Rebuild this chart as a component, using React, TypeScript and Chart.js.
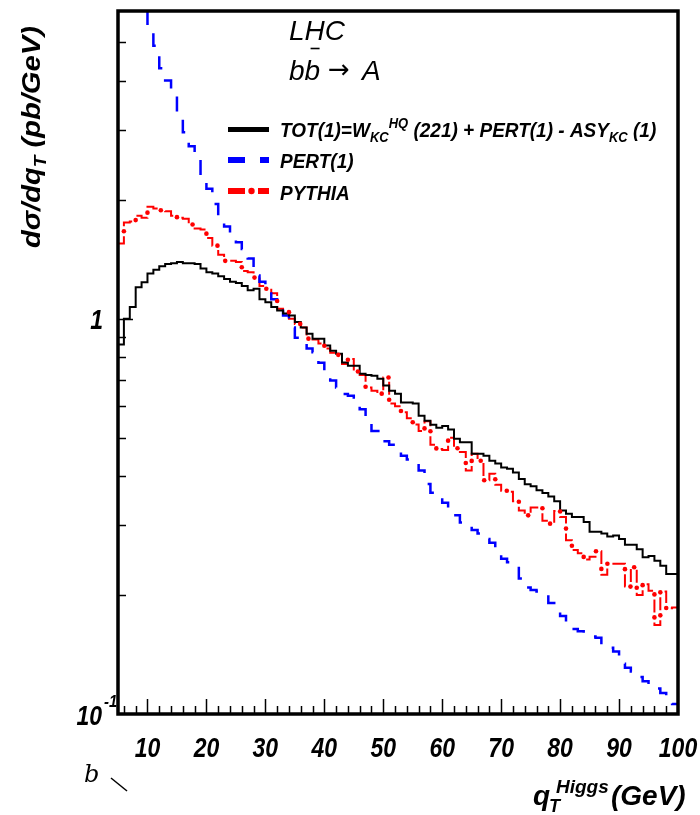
import React, { useEffect, useRef } from "react";
import { Chart, registerables } from "chart.js";

Chart.register(...registerables);

// bin edges of the qT histograms (GeV), 1 GeV bins
const qtEdges = [
  5, 6, 7, 8, 9, 10, 11, 12, 13, 14, 15, 16, 17, 18, 19, 20, 21, 22, 23, 24,
  25, 26, 27, 28, 29, 30, 31, 32, 33, 34, 35, 36, 37, 38, 39, 40, 41, 42, 43, 44,
  45, 46, 47, 48, 49, 50, 51, 52, 53, 54, 55, 56, 57, 58, 59, 60, 61, 62, 63, 64,
  65, 66, 67, 68, 69, 70, 71, 72, 73, 74, 75, 76, 77, 78, 79, 80, 81, 82, 83, 84,
  85, 86, 87, 88, 89, 90, 91, 92, 93, 94, 95, 96, 97, 98, 99, 100,
];

// TOT(1) = W_KC^HQ(221) + PERT(1) - ASY_KC(1)   (pb/GeV), bins 5..99
const totValues = [
  0.86, 1.0, 1.07, 1.2, 1.236, 1.3, 1.33, 1.356, 1.375, 1.38,
  1.39, 1.38, 1.38, 1.375, 1.34, 1.31, 1.3, 1.28, 1.26, 1.24,
  1.23, 1.21, 1.18, 1.19, 1.12, 1.1, 1.07, 1.048, 1.03, 1.018,
  0.98, 0.95, 0.916, 0.89, 0.89, 0.855, 0.83, 0.815, 0.775, 0.76,
  0.76, 0.725, 0.72, 0.717, 0.705, 0.677, 0.657, 0.646, 0.614, 0.614,
  0.61, 0.568, 0.552, 0.539, 0.53, 0.535, 0.524, 0.497, 0.487, 0.487,
  0.455, 0.455, 0.45, 0.437, 0.43, 0.42, 0.417, 0.408, 0.393, 0.381,
  0.377, 0.368, 0.362, 0.355, 0.345, 0.327, 0.321, 0.315, 0.315, 0.306,
  0.289, 0.289, 0.286, 0.281, 0.283, 0.277, 0.268, 0.268, 0.261, 0.249,
  0.251, 0.244, 0.237, 0.226, 0.226,
];

// PERT(1), bins 5..99
const pertValues = [
  14.0, 11.5, 9.5, 7.8, 6.5, 5.57, 4.9, 4.3, 4.0, 3.67,
  3.2, 2.96, 2.73, 2.56, 2.3, 2.13, 1.95, 1.82, 1.71, 1.62,
  1.56, 1.5, 1.42, 1.285, 1.24, 1.18, 1.12, 1.06, 1.018, 0.95,
  0.895, 0.864, 0.84, 0.822, 0.774, 0.726, 0.697, 0.67, 0.645, 0.638,
  0.61, 0.59, 0.552, 0.52, 0.52, 0.49, 0.48, 0.471, 0.45, 0.44,
  0.43, 0.413, 0.382, 0.363, 0.352, 0.342, 0.33, 0.318, 0.305, 0.3,
  0.292, 0.286, 0.277, 0.271, 0.254, 0.247, 0.242, 0.237, 0.22, 0.209,
  0.206, 0.204, 0.202, 0.191, 0.186, 0.177, 0.167, 0.164, 0.162, 0.159,
  0.157, 0.156, 0.15, 0.147, 0.144, 0.134, 0.131, 0.128, 0.124, 0.121,
  0.119, 0.116, 0.113, 0.11, 0.106,
];

// PYTHIA, bins 5..99
const pythiaValues = [
  1.55, 1.75, 1.76, 1.82, 1.8, 1.92, 1.9, 1.88, 1.87, 1.82,
  1.8, 1.79, 1.73, 1.69, 1.68, 1.6, 1.53, 1.45, 1.4, 1.4,
  1.39, 1.32, 1.31, 1.27, 1.21, 1.19, 1.16, 1.06, 1.04, 1.0,
  0.97, 0.95, 0.89, 0.885, 0.865, 0.84, 0.82, 0.81, 0.768, 0.79,
  0.735, 0.72, 0.67, 0.657, 0.646, 0.71, 0.61, 0.6, 0.58, 0.56,
  0.54, 0.52, 0.55, 0.48, 0.468, 0.465, 0.5, 0.47, 0.46, 0.413,
  0.455, 0.437, 0.39, 0.405, 0.38, 0.367, 0.365, 0.345, 0.327, 0.318,
  0.333, 0.333, 0.308, 0.303, 0.326, 0.315, 0.275, 0.26, 0.255, 0.246,
  0.25, 0.258, 0.225, 0.24, 0.24, 0.24, 0.21, 0.235, 0.2, 0.213,
  0.205, 0.168, 0.204, 0.185, 0.186,
];

const xTickLabelValues = [10, 20, 30, 40, 50, 60, 70, 80, 90, 100];
const yMinorTickValues = [0.2, 0.3, 0.4, 0.5, 0.6, 0.7, 0.8, 0.9, 2, 3, 4, 5];
const xMin = 5;
const xMax = 100;
const yMin = 0.1;
const yMax = 6;

// dash-dot pattern of the PYTHIA line
const RED_DASH = 13;
const RED_GAP = 5;

const FONT = '"Liberation Sans", Arial, Helvetica, sans-serif';

function toPoints(vals: number[]) {
  return qtEdges.map((x, i) => ({ x, y: vals[Math.min(i, vals.length - 1)] }));
}

type Seg = { t: string; size: number; dy?: number; dx?: number };

function drawRich(ctx: CanvasRenderingContext2D, segs: Seg[], x: number, y: number, sy: number) {
  let cx = x;
  for (const s of segs) {
    ctx.save();
    ctx.font = `italic bold ${s.size}px ${FONT}`;
    ctx.textAlign = "left";
    ctx.textBaseline = "alphabetic";
    cx += s.dx || 0;
    ctx.translate(cx, y + (s.dy || 0));
    ctx.scale(1, sy);
    ctx.fillText(s.t, 0, 0);
    cx += ctx.measureText(s.t).width;
    ctx.restore();
  }
  return cx;
}

// dots of the dash-dot line, placed along the step path built from the dataset's own pixels
function drawDashDotDots(chart: any, datasetIndex: number) {
  const { ctx, chartArea: a } = chart;
  const meta = chart.getDatasetMeta(datasetIndex);
  const pts = meta.data.map((p: any) => ({ x: p.x, y: p.y }));
  const verts: { x: number; y: number }[] = [];
  for (let i = 0; i < pts.length; i++) {
    if (i === 0) {
      verts.push(pts[0]);
    } else {
      verts.push({ x: pts[i].x, y: pts[i - 1].y });
      verts.push(pts[i]);
    }
  }
  const period = RED_DASH + 2 * RED_GAP;
  const first = RED_DASH + RED_GAP;
  let travelled = 0;
  let nextDot = first;
  ctx.save();
  ctx.beginPath();
  ctx.rect(a.left, a.top, a.right - a.left, a.bottom - a.top);
  ctx.clip();
  ctx.fillStyle = "#ff0000";
  for (let i = 1; i < verts.length; i++) {
    const p0 = verts[i - 1];
    const p1 = verts[i];
    const len = Math.hypot(p1.x - p0.x, p1.y - p0.y);
    while (nextDot <= travelled + len) {
      const t = len === 0 ? 0 : (nextDot - travelled) / len;
      const x = p0.x + (p1.x - p0.x) * t;
      const y = p0.y + (p1.y - p0.y) * t;
      ctx.beginPath();
      ctx.arc(x, y, 2.3, 0, Math.PI * 2);
      ctx.fill();
      nextDot += period;
    }
    travelled += len;
  }
  ctx.restore();
}

const overlayPlugin = {
  id: "rootOverlay",
  afterDatasetsDraw(chart: any) {
    const { ctx, chartArea: a, scales } = chart;
    const xs = scales.x;
    const ys = scales.y;

    drawDashDotDots(chart, 2);

    ctx.save();
    ctx.fillStyle = "#000";
    ctx.strokeStyle = "#000";

    // x ticks (inside)
    ctx.lineWidth = 1.5;
    for (let v = xMin + 1; v < xMax; v += 2) {
      const px = Math.round(xs.getPixelForValue(v)) + 0.5;
      const len = v % 10 === 0 ? 15 : 8;
      ctx.beginPath();
      ctx.moveTo(px, a.bottom);
      ctx.lineTo(px, a.bottom - len);
      ctx.stroke();
    }
    // y ticks (inside)
    for (const v of yMinorTickValues) {
      const py = Math.round(ys.getPixelForValue(v)) + 0.5;
      ctx.beginPath();
      ctx.moveTo(a.left, py);
      ctx.lineTo(a.left + 8, py);
      ctx.stroke();
    }
    {
      const py = Math.round(ys.getPixelForValue(1)) + 0.5;
      ctx.beginPath();
      ctx.moveTo(a.left, py);
      ctx.lineTo(a.left + 15, py);
      ctx.stroke();
    }

    // frame
    ctx.lineWidth = 3.5;
    ctx.strokeRect(a.left, a.top, a.right - a.left, a.bottom - a.top);

    // x tick labels
    for (const v of xTickLabelValues) {
      const px = xs.getPixelForValue(v);
      ctx.save();
      ctx.font = `italic bold 23px ${FONT}`;
      ctx.textAlign = "center";
      ctx.translate(px, 757);
      ctx.scale(1, 1.18);
      ctx.fillText(String(v), 0, 0);
      ctx.restore();
    }
    // y tick labels
    {
      const p1 = ys.getPixelForValue(1);
      ctx.save();
      ctx.font = `italic bold 23px ${FONT}`;
      ctx.textAlign = "right";
      ctx.translate(103, p1 + 10);
      ctx.scale(1, 1.18);
      ctx.fillText("1", 0, 0);
      ctx.restore();
      const p01 = ys.getPixelForValue(0.1);
      ctx.save();
      ctx.font = `italic bold 23px ${FONT}`;
      ctx.textAlign = "right";
      ctx.translate(102, p01 + 11);
      ctx.scale(1, 1.18);
      ctx.fillText("10", 0, 0);
      ctx.restore();
      ctx.save();
      ctx.font = `italic bold 15px ${FONT}`;
      ctx.textAlign = "left";
      ctx.translate(104, p01 - 7);
      ctx.scale(1, 1.1);
      ctx.fillText("-1", 0, 0);
      ctx.restore();
    }

    // LHC / b bbar -> A
    ctx.save();
    ctx.font = `italic 28px ${FONT}`;
    ctx.textAlign = "left";
    ctx.fillText("LHC", 289, 40);
    const wb = ctx.measureText("b").width;
    ctx.fillText("b", 289, 80);
    ctx.fillText("b", 289 + wb, 80);
    ctx.lineWidth = 1.6;
    ctx.beginPath();
    ctx.moveTo(289 + wb + 6, 48.5);
    ctx.lineTo(289 + wb + 15, 48.5);
    ctx.stroke();
    ctx.font = `26px "DejaVu Sans", ${FONT}`;
    ctx.fillText("\u2192", 328, 78);
    ctx.font = `italic 28px ${FONT}`;
    ctx.fillText("A", 362, 80);
    ctx.restore();

    // legend
    const lx0 = 228;
    const lx1 = 269;
    ctx.save();
    ctx.lineCap = "butt";
    ctx.lineWidth = 5;
    ctx.strokeStyle = "#000";
    ctx.beginPath();
    ctx.moveTo(lx0, 129.5);
    ctx.lineTo(lx1, 129.5);
    ctx.stroke();
    ctx.strokeStyle = "#0000ff";
    ctx.lineWidth = 6;
    ctx.setLineDash([17, 15]);
    ctx.beginPath();
    ctx.moveTo(lx0, 160);
    ctx.lineTo(lx1, 160);
    ctx.stroke();
    ctx.setLineDash([]);
    ctx.strokeStyle = "#ff0000";
    ctx.fillStyle = "#ff0000";
    ctx.beginPath();
    ctx.moveTo(lx0, 191);
    ctx.lineTo(lx0 + 17, 191);
    ctx.moveTo(lx0 + 30, 191);
    ctx.lineTo(lx1, 191);
    ctx.stroke();
    ctx.beginPath();
    ctx.arc(lx0 + 23.5, 191, 3.2, 0, Math.PI * 2);
    ctx.fill();
    ctx.restore();

    ctx.fillStyle = "#000";
    const lsy = 1.1;
    drawRich(
      ctx,
      [
        { t: "TOT(1)=W", size: 19 },
        { t: "KC", size: 13, dy: 5 },
        { t: "HQ", size: 13, dy: -9 },
        { t: " (221) + PERT(1) - ASY", size: 19 },
        { t: "KC", size: 13, dy: 5 },
        { t: " (1)", size: 19 },
      ],
      280,
      137,
      lsy
    );
    drawRich(ctx, [{ t: "PERT(1)", size: 19 }], 280, 168, lsy);
    drawRich(ctx, [{ t: "PYTHIA", size: 19 }], 280, 200, lsy);

    // y axis title (rotated)
    ctx.save();
    ctx.translate(40, 248);
    ctx.rotate(-Math.PI / 2);
    ctx.scale(1.12, 1);
    drawRich(
      ctx,
      [
        { t: "d\u03c3/dq", size: 26 },
        { t: "T", size: 17, dy: 6 },
        { t: " (pb/GeV)", size: 26 },
      ],
      0,
      0,
      1
    );
    ctx.restore();

    // x axis title
    drawRich(ctx, [{ t: "q", size: 28 }], 533, 805, 1);
    drawRich(ctx, [{ t: "T", size: 18 }], 549, 812, 1);
    drawRich(ctx, [{ t: "Higgs", size: 19 }], 556, 793, 1);
    drawRich(ctx, [{ t: "(GeV)", size: 28 }], 611, 805, 1);

    // stray "b" and mark below the frame
    ctx.save();
    ctx.font = `italic 24px "DejaVu Serif", "Liberation Serif", serif`;
    ctx.fillText("b", 84, 782);
    ctx.lineWidth = 1.5;
    ctx.beginPath();
    ctx.moveTo(111, 778);
    ctx.lineTo(127, 791);
    ctx.stroke();
    ctx.restore();

    ctx.restore();
  },
};

export default function App() {
  const ref = useRef<HTMLCanvasElement>(null);
  useEffect(() => {
    document.body.style.margin = "0";
    const canvas = ref.current!;
    const chart = new Chart(canvas, {
      type: "line",
      data: {
        datasets: [
          {
            label: "TOT(1)",
            data: toPoints(totValues),
            stepped: "before",
            borderColor: "#000000",
            borderWidth: 2,
            pointRadius: 0,
            fill: false,
          },
          {
            label: "PERT(1)",
            data: toPoints(pertValues),
            stepped: "before",
            borderColor: "#0000ff",
            borderWidth: 2.5,
            borderDash: [15, 14],
            pointRadius: 0,
            fill: false,
          },
          {
            label: "PYTHIA",
            data: toPoints(pythiaValues),
            stepped: "before",
            borderColor: "#ff0000",
            borderWidth: 2,
            borderDash: [RED_DASH, 2 * RED_GAP],
            pointRadius: 0,
            fill: false,
          },
        ] as any,
      },
      options: {
        responsive: false,
        animation: false,
        devicePixelRatio: 1,
        events: [],
        layout: { padding: { left: 0, right: 22, top: 11, bottom: 0 } },
        plugins: { legend: { display: false }, tooltip: { enabled: false } },
        scales: {
          x: {
            type: "linear",
            min: xMin,
            max: xMax,
            grid: { display: false },
            border: { display: false },
            ticks: { display: false },
            afterFit: (s: any) => {
              s.height = 101;
            },
          },
          y: {
            type: "logarithmic",
            min: yMin,
            max: yMax,
            grid: { display: false },
            border: { display: false },
            ticks: { display: false },
            afterFit: (s: any) => {
              s.width = 118;
            },
          },
        },
      } as any,
      plugins: [overlayPlugin],
    });
    return () => chart.destroy();
  }, []);
  return (
    <div style={{ width: 700, height: 815, background: "#fff", position: "relative" }}>
      <canvas ref={ref} width={700} height={815} style={{ display: "block" }} />
    </div>
  );
}
